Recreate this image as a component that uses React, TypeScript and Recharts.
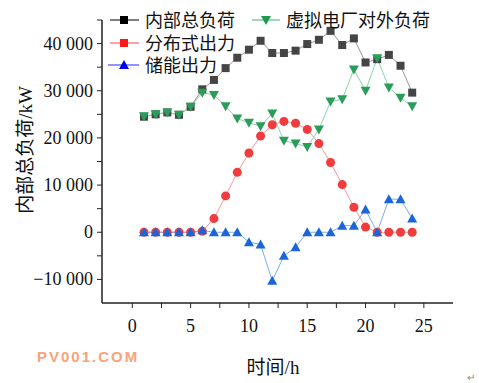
import React from "react";
import { LineChart, Line, XAxis, YAxis } from "recharts";

const hours = [1, 2, 3, 4, 5, 6, 7, 8, 9, 10, 11, 12, 13, 14, 15, 16, 17, 18, 19, 20, 21, 22, 23, 24];
const internalLoad = [24500, 25000, 25400, 24900, 26600, 30300, 32300, 34800, 37000, 38700, 40600, 38000, 38000, 38500, 39900, 40800, 42700, 39700, 41100, 36000, 36700, 37600, 35300, 29600];
const distributed = [0, 0, 0, 0, 0, 200, 2900, 7700, 12700, 16800, 20400, 22800, 23500, 23100, 21800, 18800, 14800, 10100, 5300, 1100, 0, 0, 0, 0];
const storage = [0, 0, 0, 0, 0, 400, 0, 0, 0, -2100, -2600, -10300, -5000, -3200, 0, 0, 0, 1400, 1400, 4800, 0, 7000, 7000, 2900];
const external = [24600, 25000, 25400, 24900, 26600, 29600, 29100, 26700, 24100, 23200, 22500, 25200, 19400, 18800, 18100, 21800, 27700, 28200, 34500, 30000, 36900, 30700, 28500, 26700];

const xTicks = [0, 2.5, 5, 7.5, 10, 12.5, 15, 17.5, 20, 22.5, 25];
const yTicks = [-10000, -5000, 0, 5000, 10000, 15000, 20000, 25000, 30000, 35000, 40000, 45000];

const data = hours.map((h, i) => ({
  hour: h,
  internalLoad: internalLoad[i],
  distributed: distributed[i],
  storage: storage[i],
  external: external[i],
}));

const font = '"Liberation Serif", "Noto Sans CJK SC", serif';

function fmt(v: number) {
  const s = Math.abs(v).toString().replace(/\B(?=(\d{3})+(?!\d))/g, " ");
  return v < 0 ? "\u2212" + s : s;
}

const square = (color: string) => (p: any) => (
  <rect key={p.index} x={p.cx - 4} y={p.cy - 4} width={8} height={8} fill={color} />
);
const circle = (color: string) => (p: any) => (
  <circle key={p.index} cx={p.cx} cy={p.cy} r={4.5} fill={color} />
);
const triUp = (color: string) => (p: any) => (
  <path key={p.index} d={`M${p.cx},${p.cy - 5}L${p.cx + 5},${p.cy + 4}L${p.cx - 5},${p.cy + 4}Z`} fill={color} />
);
const triDown = (color: string) => (p: any) => (
  <path key={p.index} d={`M${p.cx - 5},${p.cy - 4}L${p.cx + 5},${p.cy - 4}L${p.cx},${p.cy + 5}Z`} fill={color} />
);

const XTick = (p: any) => {
  const v = p.payload.value;
  return (
    <text x={p.x} y={p.y + 22} textAnchor="middle" fontSize={18} fontFamily={font} fill="#111">
      {v % 5 === 0 ? v : ""}
    </text>
  );
};

const YTick = (p: any) => {
  const v = p.payload.value;
  return (
    <text x={p.x - 2} y={p.y + 6} textAnchor="end" fontSize={18} fontFamily={font} fill="#111">
      {v % 10000 === 0 ? fmt(v) : ""}
    </text>
  );
};

export default function App() {
  return (
    <div style={{ position: "absolute", left: 0, top: 0, width: 479, height: 383, background: "#fff" }}>
      <LineChart width={479} height={383} data={data} margin={{ top: 20, right: 26, bottom: 50, left: 0 }}>
        <XAxis
          type="number"
          dataKey="hour"
          domain={[-2.6, 27.5]}
          ticks={xTicks}
          tick={<XTick />}
          tickSize={5}
          height={30}
          axisLine={{ stroke: "#222", strokeWidth: 1.5 }}
          tickLine={{ stroke: "#222" }}
          allowDataOverflow
        />
        <YAxis
          type="number"
          domain={[-15000, 45000]}
          ticks={yTicks}
          tick={<YTick />}
          tickSize={5}
          width={102}
          axisLine={{ stroke: "#222", strokeWidth: 1.5 }}
          tickLine={{ stroke: "#222" }}
          allowDataOverflow
        />
        <Line dataKey="internalLoad" stroke="#9a9a9a" strokeWidth={1} dot={square("#454545")} isAnimationActive={false} />
        <Line dataKey="distributed" stroke="#f59a9a" strokeWidth={1} dot={circle("#f03c3c")} isAnimationActive={false} />
        <Line dataKey="storage" stroke="#80aaee" strokeWidth={1} dot={triUp("#1a66d9")} isAnimationActive={false} />
        <Line dataKey="external" stroke="#8ad4a8" strokeWidth={1} dot={triDown("#2a9d5a")} isAnimationActive={false} />
      </LineChart>
      <svg width={479} height={383} style={{ position: "absolute", left: 0, top: 0, pointerEvents: "none" }}>
        {/* legend */}
        <line x1={110} y1={20} x2={139} y2={20} stroke="#000" strokeWidth={1} />
        <rect x={120} y={16} width={8} height={8} fill="#000" />
        <text x={145} y={26.5} fontSize={18} fontFamily={font} fill="#111">内部总负荷</text>
        <line x1={110} y1={43} x2={139} y2={43} stroke="#ff4444" strokeWidth={1} />
        <rect x={120} y={39} width={8} height={8} fill="#ff1a1a" />
        <text x={145} y={49.5} fontSize={18} fontFamily={font} fill="#111">分布式出力</text>
        <line x1={108} y1={65} x2={139} y2={65} stroke="#6f6fff" strokeWidth={1.5} />
        <path d="M124,60L129,69L119,69Z" fill="#0000ee" />
        <text x={145} y={71.5} fontSize={18} fontFamily={font} fill="#111">储能出力</text>
        <line x1={252} y1={20} x2={280} y2={20} stroke="#3cb46a" strokeWidth={1} />
        <path d="M261,16L271,16L266,25Z" fill="#1f9a52" />
        <text x={286} y={26.5} fontSize={18} fontFamily={font} fill="#111">虚拟电厂对外负荷</text>
        {/* axis titles */}
        <text
          x={25}
          y={150}
          transform="rotate(-90 25 150)"
          textAnchor="middle"
          dominantBaseline="central"
          fontSize={19}
          fontFamily={font}
          fill="#111"
        >
          内部总负荷/kW
        </text>
        <text x={273} y={374} textAnchor="middle" fontSize={19} fontFamily={font} fill="#111">时间/h</text>
        <text x={37} y={362} fontSize={15} fontWeight="bold" letterSpacing={2} fontFamily='"Liberation Sans", sans-serif' fill="#f7a47a">
          PV001.COM
        </text>
        <text x={467} y={381} fontSize={10} fontFamily={font} fill="#888">↵</text>
      </svg>
    </div>
  );
}
